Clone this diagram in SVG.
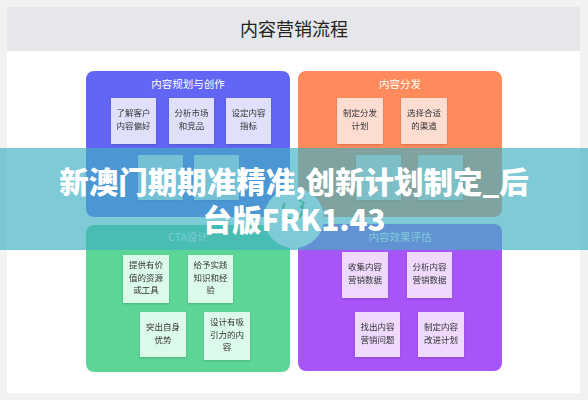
<svg xmlns="http://www.w3.org/2000/svg" width="588" height="400" viewBox="0 0 588 400">
<defs>
<style>
.t{font-family:"Noto Sans CJK SC","Noto Sans",sans-serif;}
.pt{font-family:"Noto Sans CJK SC","Noto Sans",sans-serif;font-size:10.5px;fill:#ffffff;text-anchor:middle;}
.bt{font-family:"Noto Sans CJK SC","Noto Sans",sans-serif;font-size:8.5px;fill:#333333;text-anchor:middle;}
.b1{fill:#e1e0fb;}
.b2{fill:#fddcd2;}
.b3{fill:#dcfaea;}
.b4{fill:#efd9fc;}
.box{filter:url(#sh);}
.ban{font-family:"Noto Sans CJK SC","Noto Sans",sans-serif;font-size:29.5px;font-weight:900;fill:#ffffff;text-anchor:middle;}
</style>
<filter id="sh" x="-20%" y="-20%" width="140%" height="150%">
<feDropShadow dx="0" dy="1" stdDeviation="1" flood-color="#000000" flood-opacity="0.18"/>
</filter>
</defs>
<rect x="0" y="0" width="588" height="400" fill="#f2f2f2"/>
<rect x="7" y="7" width="573" height="386" fill="#ffffff"/>
<rect x="7" y="7" width="573" height="44" fill="#e6e7ea"/>
<text class="t" x="294" y="36" font-size="18" fill="#222222" text-anchor="middle">内容营销流程</text>

<g id="panel-plan">
<rect x="86" y="71" width="204" height="146" rx="8" fill="#6366f5"/>
<text class="pt" x="188" y="88">内容规划与创作</text>
<g id="plan-1" class="box"><rect class="b1" x="111" y="98" width="45" height="46"/><text class="bt" x="133.5" y="116">了解客户</text><text class="bt" x="133.5" y="129">内容偏好</text></g>
<g id="plan-2" class="box"><rect class="b1" x="169" y="98" width="45" height="46"/><text class="bt" x="191.5" y="116">分析市场</text><text class="bt" x="191.5" y="129">和竞品</text></g>
<g id="plan-3" class="box"><rect class="b1" x="226" y="98" width="45" height="46"/><text class="bt" x="248.5" y="116">设定内容</text><text class="bt" x="248.5" y="129">指标</text></g>
<g id="plan-4" class="box"><rect class="b1" x="138" y="155" width="45" height="45"/></g>
<g id="plan-5" class="box"><rect class="b1" x="194" y="155" width="45" height="45"/></g>
</g>

<g id="panel-dist">
<rect x="298" y="71" width="204" height="146" rx="8" fill="#ff8a5b"/>
<text class="pt" x="400" y="88">内容分发</text>
<g id="dist-1" class="box"><rect class="b2" x="337" y="98" width="46" height="46"/><text class="bt" x="360" y="116">制定分发</text><text class="bt" x="360" y="129">计划</text></g>
<g id="dist-2" class="box"><rect class="b2" x="401" y="98" width="46" height="46"/><text class="bt" x="424" y="116">选择合适</text><text class="bt" x="424" y="129">的渠道</text></g>
<g id="dist-3" class="box"><rect class="b2" x="356" y="155" width="45" height="45"/></g>
<g id="dist-4" class="box"><rect class="b2" x="418" y="155" width="45" height="45"/></g>
</g>

<g id="panel-cta">
<rect x="86" y="225" width="204" height="147" rx="8" fill="#5cd696"/>
<text class="pt" x="188" y="241">CTA设计</text>
<g id="cta-1" class="box"><rect class="b3" x="123" y="255" width="46" height="48"/><text class="bt" x="146" y="268">提供有价</text><text class="bt" x="146" y="280.5">值的资源</text><text class="bt" x="146" y="293">或工具</text></g>
<g id="cta-2" class="box"><rect class="b3" x="188" y="255" width="45" height="48"/><text class="bt" x="210.5" y="268">给予实践</text><text class="bt" x="210.5" y="280.5">知识和经</text><text class="bt" x="210.5" y="293">验</text></g>
<g id="cta-3" class="box"><rect class="b3" x="140" y="312" width="46" height="45"/><text class="bt" x="163" y="330">突出自身</text><text class="bt" x="163" y="343">优势</text></g>
<g id="cta-4" class="box"><rect class="b3" x="204" y="312" width="46" height="48"/><text class="bt" x="227" y="325">设计有吸</text><text class="bt" x="227" y="337.5">引力的内</text><text class="bt" x="227" y="350">容</text></g>
</g>

<g id="panel-eval">
<rect x="298" y="224" width="204" height="147" rx="8" fill="#a855f7"/>
<text class="pt" x="400" y="241">内容效果评估</text>
<g id="eval-1" class="box"><rect class="b4" x="342" y="252" width="46" height="46"/><text class="bt" x="365" y="270">收集内容</text><text class="bt" x="365" y="283">营销数据</text></g>
<g id="eval-2" class="box"><rect class="b4" x="407" y="252" width="45" height="46"/><text class="bt" x="429.5" y="270">分析内容</text><text class="bt" x="429.5" y="283">营销数据</text></g>
<g id="eval-3" class="box"><rect class="b4" x="355" y="312" width="45" height="45"/><text class="bt" x="377.5" y="330">找出内容</text><text class="bt" x="377.5" y="343">营销问题</text></g>
<g id="eval-4" class="box"><rect class="b4" x="418" y="312" width="46" height="45"/><text class="bt" x="441" y="330">制定内容</text><text class="bt" x="441" y="343">改进计划</text></g>
</g>

<g id="hub">
<circle cx="294" cy="218" r="30" fill="#ffffff"/>
<path d="M 285 203 A 10 10 0 1 0 302 205" fill="none" stroke="#4caf50" stroke-width="2"/>
<path d="M 299 200 L 304 203 L 300 208" fill="none" stroke="#4caf50" stroke-width="1.6"/>
</g>

<g id="connectors"></g>

<g id="banner">
<rect x="0" y="148" width="588" height="102" fill="#3eb0c2" fill-opacity="0.67"/>
<text class="ban" x="294" y="193">新澳门期期准精准,创新计划制定_后</text>
<text class="ban" x="294" y="231">台版FRK1.43</text>
</g>
</svg>
